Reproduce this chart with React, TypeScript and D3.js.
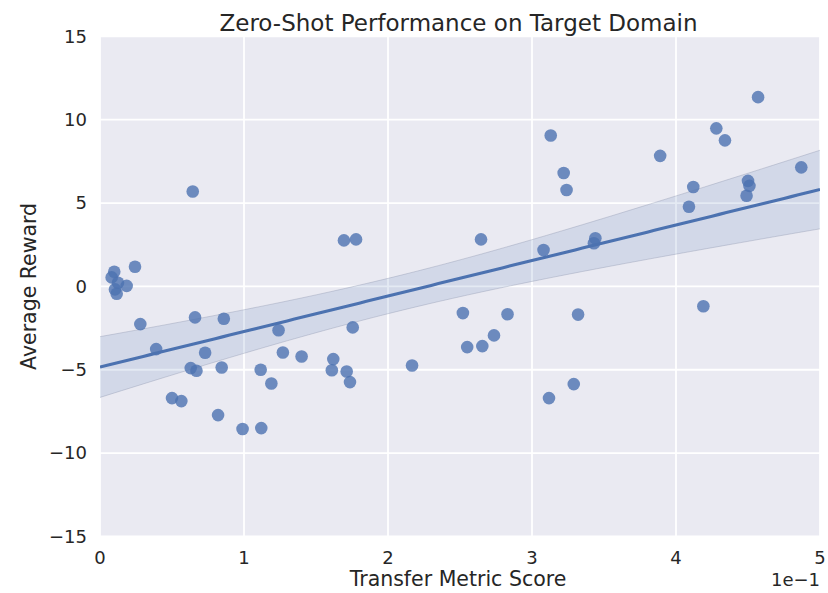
import React from "react";
import * as d3 from "d3";

const xValues: number[] = [
  0.0099, 0.0081, 0.0125, 0.0185, 0.0104, 0.0116, 0.0243, 0.0644, 0.028, 0.066,
  0.086, 0.124, 0.039, 0.073, 0.127, 0.14, 0.162, 0.161, 0.063, 0.067,
  0.0845, 0.1116, 0.119, 0.05, 0.0565, 0.082, 0.099, 0.112, 0.1694, 0.1778,
  0.2646, 0.308, 0.313, 0.322, 0.324, 0.1755, 0.1713, 0.1736, 0.2167, 0.252,
  0.283, 0.255, 0.2655, 0.2736, 0.332, 0.329, 0.3118, 0.389, 0.428, 0.434,
  0.457, 0.487, 0.412, 0.409, 0.45, 0.451, 0.449, 0.344, 0.343, 0.419,
];
const yValues: number[] = [
  0.88, 0.54, 0.22, 0.03, -0.18, -0.44, 1.18, 5.69, -2.26, -1.86,
  -1.94, -2.63, -3.76, -3.98, -3.96, -4.2, -4.36, -5.03, -4.9, -5.06,
  -4.86, -5.0, -5.82, -6.7, -6.88, -7.72, -8.55, -8.5, 2.76, 2.82,
  2.82, 2.18, 9.05, 6.8, 5.78, -2.46, -5.1, -5.74, -4.74, -1.6,
  -1.67, -3.64, -3.58, -2.94, -1.69, -5.86, -6.7, 7.83, 9.48, 8.76,
  11.35, 7.14, 5.96, 4.78, 6.33, 6.03, 5.44, 2.89, 2.59, -1.19,
];
const xTicks: number[] = [0, 0.1, 0.2, 0.3, 0.4, 0.5];
const xTickLabels: string[] = ["0", "1", "2", "3", "4", "5"];
const yTicks: number[] = [-15, -10, -5, 0, 5, 10, 15];
const yTickLabels: string[] = ["\u221215", "\u221210", "\u22125", "0", "5", "10", "15"];
const title = "Zero-Shot Performance on Target Domain";
const xLabel = "Transfer Metric Score";
const yLabel = "Average Reward";
const offsetText = "1e\u22121";

const W = 828;
const H = 593;
const L = 100;
const R = 820;
const T = 36.3;
const B = 536.5;
const BLUE = "#4C72B0";
const TEXT = "#262626";
const FONT = "'DejaVu Sans', sans-serif";

export default function App() {
  const x = d3.scaleLinear().domain([0, 0.5]).range([L, R]);
  const y = d3.scaleLinear().domain([-15, 15]).range([B, T]);

  const n = xValues.length;
  const mx = d3.mean(xValues) as number;
  const my = d3.mean(yValues) as number;
  let sxx = 0, sxy = 0;
  for (let i = 0; i < n; i++) {
    sxx += (xValues[i] - mx) ** 2;
    sxy += (xValues[i] - mx) * (yValues[i] - my);
  }
  const slope = sxy / sxx;
  const icpt = my - slope * mx;
  let sse = 0;
  for (let i = 0; i < n; i++) sse += (yValues[i] - (icpt + slope * xValues[i])) ** 2;
  const s = Math.sqrt(sse / (n - 2));
  const tcrit = 2.0;
  const grid = d3.range(0, 101).map((i) => (0.5 * i) / 100);
  const fitPts = grid.map((gx) => {
    const yh = icpt + slope * gx;
    const se = s * Math.sqrt(1 / n + (gx - mx) ** 2 / sxx);
    return { gx, yh, lo: yh - tcrit * se, hi: yh + tcrit * se };
  });

  const area = d3
    .area<any>()
    .x((d) => x(d.gx))
    .y0((d) => y(d.lo))
    .y1((d) => y(d.hi));
  const line = d3
    .line<any>()
    .x((d) => x(d.gx))
    .y((d) => y(d.yh));
  const upper = d3.line<any>().x((d) => x(d.gx)).y((d) => y(d.hi));
  const lower = d3.line<any>().x((d) => x(d.gx)).y((d) => y(d.lo));

  return (
    <svg width={W} height={H} style={{ position: "absolute", left: 0, top: 0 }} fontFamily={FONT}>
      <rect x={0} y={0} width={W} height={H} fill="#ffffff" />
      <defs>
        <clipPath id="plotclip">
          <rect x={L} y={T} width={R - L} height={B - T} />
        </clipPath>
      </defs>
      <rect x={L} y={T} width={R - L} height={B - T} fill="#EAEAF2" />
      {xTicks.map((t, i) => (
        <line key={"gx" + i} x1={x(t)} x2={x(t)} y1={T} y2={B} stroke="#ffffff" strokeWidth={1.8} />
      ))}
      {yTicks.map((t, i) => (
        <line key={"gy" + i} x1={L} x2={R} y1={y(t)} y2={y(t)} stroke="#ffffff" strokeWidth={1.8} />
      ))}
      <g clipPath="url(#plotclip)">
        <path d={area(fitPts) || ""} fill={BLUE} fillOpacity={0.15} />
        <path d={upper(fitPts) || ""} fill="none" stroke="#8890a8" strokeOpacity={0.35} strokeWidth={1} />
        <path d={lower(fitPts) || ""} fill="none" stroke="#8890a8" strokeOpacity={0.35} strokeWidth={1} />
        {xValues.map((xv, i) => (
          <circle key={"p" + i} cx={x(xv)} cy={y(yValues[i])} r={6.3} fill={BLUE} fillOpacity={0.8} />
        ))}
        <path d={line(fitPts) || ""} fill="none" stroke={BLUE} strokeWidth={3.1} />
      </g>
      {xTicks.map((t, i) => (
        <text key={"tx" + i} x={x(t)} y={563.5} fontSize={18} fill={TEXT} textAnchor="middle">
          {xTickLabels[i]}
        </text>
      ))}
      {yTicks.map((t, i) => (
        <text key={"ty" + i} x={87} y={y(t)} dy="0.35em" fontSize={18} fill={TEXT} textAnchor="end">
          {yTickLabels[i]}
        </text>
      ))}
      <text x={458.5} y={30.5} fontSize={23} fill={TEXT} textAnchor="middle">
        {title}
      </text>
      <text x={458} y={586} fontSize={20.5} fill={TEXT} textAnchor="middle">
        {xLabel}
      </text>
      <text x={R} y={586} fontSize={18} fill={TEXT} textAnchor="end">
        {offsetText}
      </text>
      <text
        transform={`translate(36,${(T + B) / 2}) rotate(-90)`}
        fontSize={20.5}
        fill={TEXT}
        textAnchor="middle"
      >
        {yLabel}
      </text>
    </svg>
  );
}
